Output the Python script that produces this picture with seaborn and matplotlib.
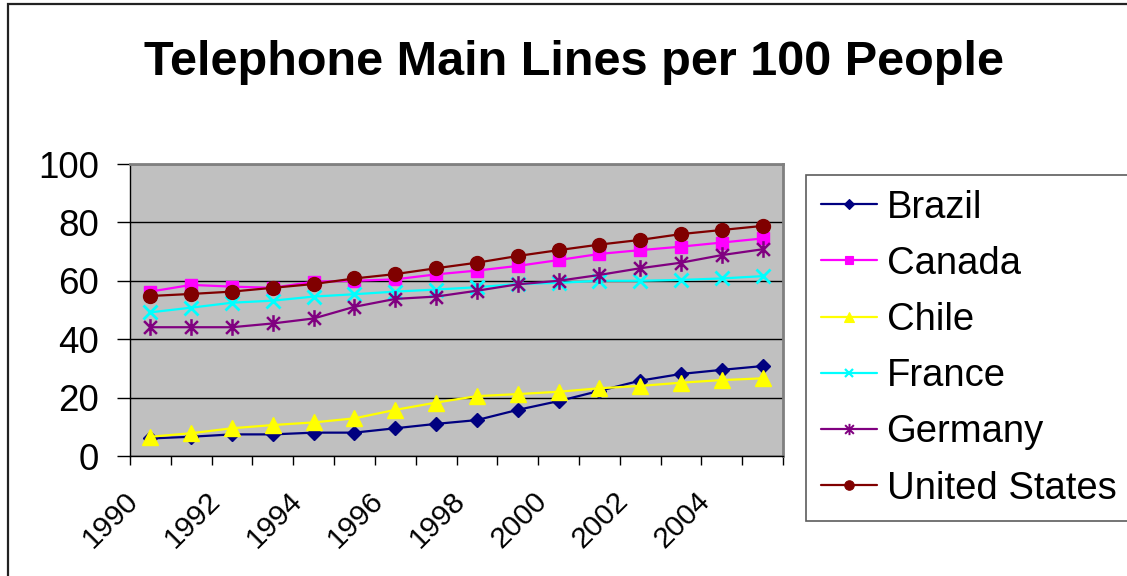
import numpy as np
import pandas as pd
import matplotlib
matplotlib.use("Agg")
import matplotlib.pyplot as plt
import matplotlib.transforms as mtransforms
import matplotlib.patches as mpatches
from matplotlib.path import Path
from matplotlib.lines import Line2D
import seaborn as sns

# ---------------- data ----------------
years = list(range(1990, 2006))
countries = ["Brazil", "Canada", "Chile", "France", "Germany", "United States"]
brazil = [6.0, 6.6, 7.4, 7.4, 8.0, 8.0, 9.5, 11.0, 12.3, 15.8, 18.8, 22.3, 25.8, 28.1, 29.5, 30.8]
canada = [56.3, 58.6, 58.0, 57.6, 59.7, 60.0, 60.5, 62.2, 63.5, 65.1, 67.1, 69.2, 70.5, 71.7, 73.1, 74.5]
chile = [6.6, 7.8, 9.5, 10.6, 11.5, 12.9, 15.8, 18.3, 20.5, 21.2, 22.0, 23.2, 24.0, 25.1, 26.0, 26.6]
france = [49.2, 50.8, 52.5, 53.2, 54.6, 55.4, 56.3, 57.0, 57.8, 58.9, 59.3, 60.0, 60.0, 60.3, 60.8, 61.6]
germany = [44.1, 44.1, 44.1, 45.4, 47.1, 51.1, 53.8, 54.6, 56.6, 58.8, 60.0, 62.0, 64.3, 66.2, 68.8, 70.8]
usa = [54.8, 55.5, 56.3, 57.6, 58.9, 60.8, 62.3, 64.3, 66.2, 68.5, 70.5, 72.4, 74.0, 76.0, 77.4, 78.8]
year_labels = ["1990", "1992", "1994", "1996", "1998", "2000", "2002", "2004"]
y_ticks = [0, 20, 40, 60, 80, 100]
title = "Telephone Main Lines per 100 People"

series = [brazil, canada, chile, france, germany, usa]
df = pd.DataFrame({
    "year": years * len(countries),
    "value": sum(series, []),
    "country": [c for c in countries for _ in years],
})

# ---------------- styles ----------------
star = Path([(-1, -1), (1, 1), (-1, 1), (1, -1), (0, -1.3), (0, 1.3)],
            [Path.MOVETO, Path.LINETO, Path.MOVETO, Path.LINETO, Path.MOVETO, Path.LINETO])
styles = {
    "Brazil": dict(color="#000080", marker="D", ms=7.3, mew=1.0),
    "Canada": dict(color="#FF00FF", marker="s", ms=9.0, mew=1.0),
    "Chile": dict(color="#FFFF00", marker="^", ms=11, mew=1.0),
    "France": dict(color="#00FFFF", marker="x", ms=9.5, mew=2.0),
    "Germany": dict(color="#800080", marker=star, ms=12, mew=1.8),
    "United States": dict(color="#800000", marker="o", ms=10, mew=1.0),
}

sns.set_theme(style="white")
plt.rcParams["font.family"] = ["Liberation Sans", "DejaVu Sans"]

W, H = 1127, 576
fig = plt.figure(figsize=(W / 100, H / 100), dpi=100)
fig.patch.set_facecolor("white")

# outer chart frame
fig.patches.append(mpatches.Rectangle((8 / W, -0.1), 1.5, 1.1 - 4 / H, transform=fig.transFigure,
                                      fill=False, edgecolor="#222222", lw=1.6))

ax = fig.add_axes([130 / W, 1 - 456 / H, 653 / W, 292 / H])
ax.set_facecolor("#C0C0C0")

for c in countries:
    st = styles[c]
    sns.lineplot(data=df[df["country"] == c], x="year", y="value", ax=ax,
                 color=st["color"], marker=st["marker"], markersize=st["ms"],
                 markeredgewidth=st["mew"], markeredgecolor=st["color"],
                 markerfacecolor=st["color"], linewidth=1.6, label=None, legend=False,
                 zorder=3)

ax.set_xlim(years[0] - 0.5, years[-1] + 0.5)
ax.set_ylim(0, 100)
ax.set_xlabel("")
ax.set_ylabel("")

# y axis
ax.set_yticks(y_ticks)
ax.set_yticklabels([str(v) for v in y_ticks], fontsize=26.5, color="black")
ax.tick_params(axis="y", direction="out", length=9.4, width=1, color="black", pad=13, left=True)
ax.yaxis.grid(True, color="black", lw=1)
ax.xaxis.grid(False)
ax.set_axisbelow(True)

# x axis: boundary tick marks, labels drawn as rotated text
ax.set_xticks([y - 0.5 for y in years] + [years[-1] + 0.5])
ax.set_xticklabels([])
ax.tick_params(axis="x", direction="out", length=6.5, width=1, color="black", bottom=True)
blend = mtransforms.blended_transform_factory(ax.transData, ax.transAxes)
offs = mtransforms.ScaledTranslation(-26 / 100, -31 / 100, fig.dpi_scale_trans)
for lab in year_labels:
    ax.text(int(lab), 0, lab, transform=blend + offs, rotation=45, rotation_mode="anchor",
            ha="right", va="top", fontsize=21.5, color="black")

for s in ["left", "bottom"]:
    ax.spines[s].set_color("black")
    ax.spines[s].set_linewidth(1)
for s in ["top", "right"]:
    ax.spines[s].set_color("#808080")
    ax.spines[s].set_linewidth(2)

# title
fig.text(574 / W, 1 - 75 / H, title, ha="center", va="baseline", fontsize=35,
         fontweight="bold", color="black")

# legend
handles = [Line2D([], [], color=styles[c]["color"], marker=styles[c]["marker"],
                  markersize=styles[c]["ms"] * 0.68, markeredgewidth=styles[c]["mew"] * 0.8,
                  markerfacecolor=styles[c]["color"], markeredgecolor=styles[c]["color"], lw=1.6)
           for c in countries]
leg = fig.legend(handles, countries, loc="upper left", bbox_to_anchor=(806 / W, 1 - 175 / H),
                 bbox_transform=fig.transFigure, borderaxespad=0, fontsize=27.5,
                 frameon=True, fancybox=False, edgecolor="#333333", facecolor="white",
                 handlelength=1.47, handletextpad=0.26, borderpad=0.38, labelspacing=0.53)
leg.get_frame().set_linewidth(1.2)
for t in leg.get_texts():
    t.set_color("black")

fig.savefig("out.png", dpi=100)
